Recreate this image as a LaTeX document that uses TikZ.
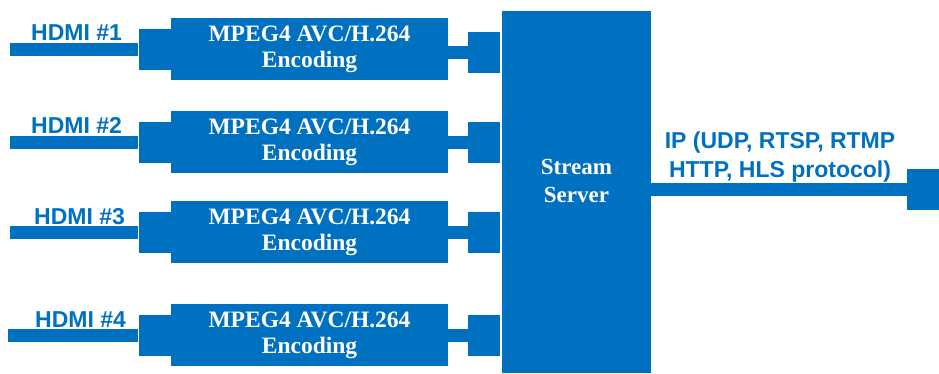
\documentclass[tikz,border=0pt]{standalone}
\usepackage{fontspec}
\setmainfont{Liberation Serif}
\newfontfamily\sansfont{Liberation Sans}
\usepackage{tikz}
\usetikzlibrary{shapes,arrows,positioning}
\definecolor{hdblue}{RGB}{0,112,192}
\tikzstyle{block} = [rectangle, fill=hdblue, text=white, font=\bfseries\fontsize{23.5}{26}\selectfont, align=center, inner sep=0pt, minimum width=277pt, minimum height=62pt]
\tikzstyle{tab} = [rectangle, fill=hdblue, inner sep=0pt, minimum width=32pt, minimum height=41pt]
\tikzstyle{hub} = [rectangle, fill=hdblue, inner sep=0pt, minimum width=149pt, minimum height=362pt]
\tikzstyle{title} = [text=white, font=\bfseries\fontsize{23}{28}\selectfont, align=center, inner sep=0pt]
\tikzstyle{port} = [text=hdblue, font=\sansfont\bfseries\fontsize{23}{29}\selectfont, align=center, inner sep=0pt]
\tikzstyle{line} = [draw=hdblue, line width=13pt]

\begin{document}
\begin{tikzpicture}[x=1pt, y=1pt]
      \useasboundingbox (0,0) rectangle (939,-373);

      % encoders
      \node [block] (enc1) at (309.5,-49) {MPEG4 AVC/H.264\\Encoding};
      \node [block] (enc2) at (309.5,-142) {MPEG4 AVC/H.264\\Encoding};
      \node [block] (enc3) at (309.5,-232) {MPEG4 AVC/H.264\\Encoding};
      \node [block] (enc4) at (309.5,-335) {MPEG4 AVC/H.264\\Encoding};

      % plugs on both sides
      \node [tab, left=0pt of enc1] (inplug1) {};
      \node [tab, left=0pt of enc2] (inplug2) {};
      \node [tab, left=0pt of enc3] (inplug3) {};
      \node [tab, left=0pt of enc4] (inplug4) {};
      \node [tab, right=20pt of enc1, yshift=-3.5pt] (outplug1) {};
      \node [tab, right=20pt of enc2] (outplug2) {};
      \node [tab, right=20pt of enc3] (outplug3) {};
      \node [tab, right=20pt of enc4] (outplug4) {};

      % server and output
      \node [hub] (server) at (576.5,-192) {};
      \node [title] (servername) at (576.5,-181) {Stream\\Server};
      \node [tab] (outcap) at (923,-189.5) {};

      % labels
      \node [port, anchor=base west] (hdmi1) at (31,-40) {HDMI \#1};
      \node [port, anchor=base west] (hdmi2) at (31,-133) {HDMI \#2};
      \node [port, anchor=base west] (hdmi3) at (34,-224) {HDMI \#3};
      \node [port, anchor=base west] (hdmi4) at (35,-327) {HDMI \#4};
      \node [port, anchor=south] (iplabel) at (780,-182) {IP (UDP, RTSP, RTMP\\HTTP, HLS protocol)};

      \coordinate (src1) at (10,-49);
      \coordinate (src2) at (10,-142);
      \coordinate (src3) at (10,-232);
      \coordinate (src4) at (8,-335);

      \path [line] (src1) -- (inplug1);
      \path [line] (src2) -- (inplug2);
      \path [line] (src3) -- (inplug3);
      \path [line] (src4) -- (inplug4);
      \path [line] (enc1.east |- outplug1) -- (outplug1);
      \path [line] (enc2.east |- outplug2) -- (outplug2);
      \path [line] (enc3.east |- outplug3) -- (outplug3);
      \path [line] (enc4.east |- outplug4) -- (outplug4);
      \path [line] (server.east |- outcap) -- (outcap);
    \end{tikzpicture}
\end{document}
